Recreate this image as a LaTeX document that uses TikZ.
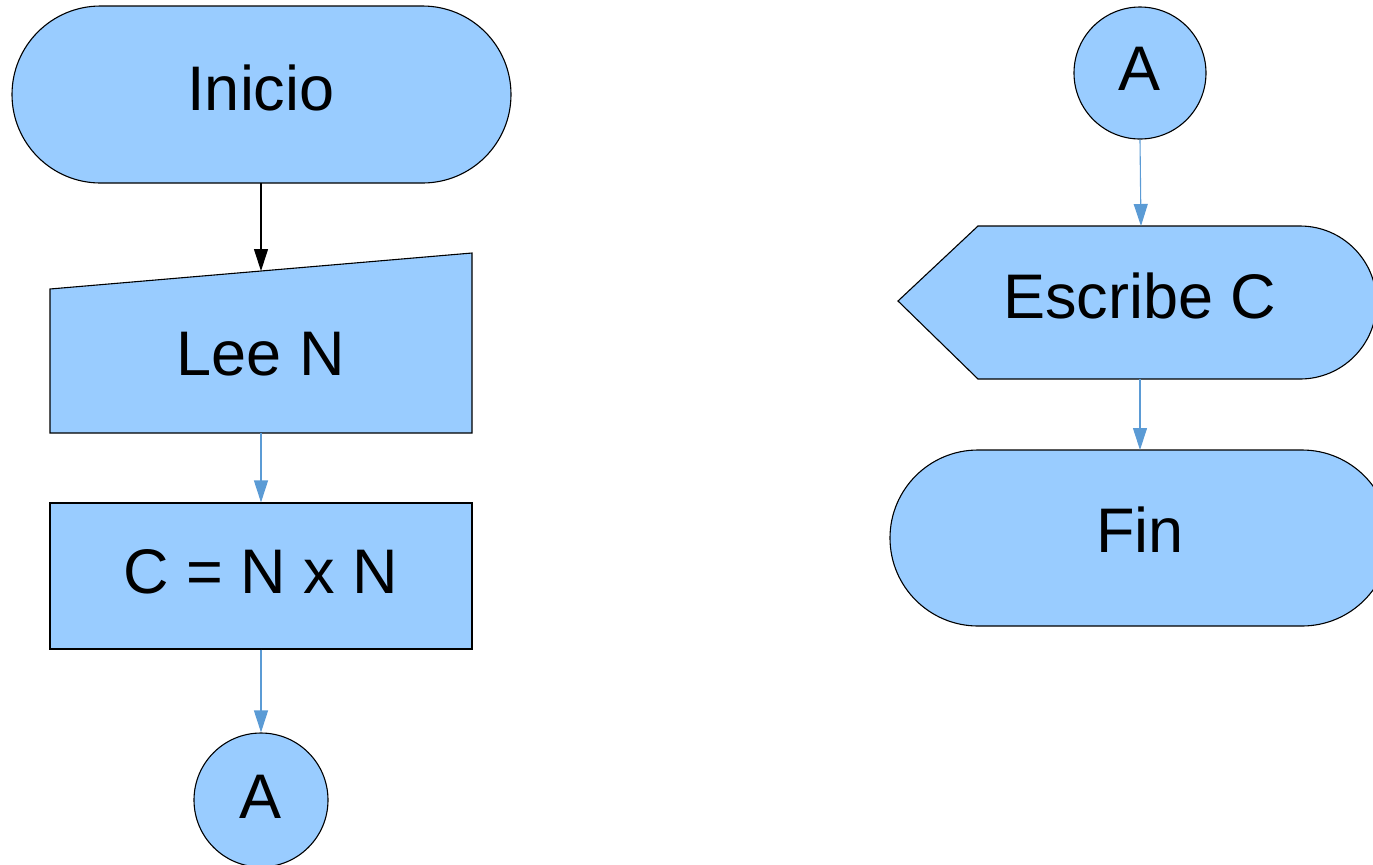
\documentclass[tikz,border=0pt]{standalone}
\usepackage{fontspec}
\setmainfont{Liberation Sans}
\usetikzlibrary{arrows.meta}
\definecolor{boxfill}{RGB}{153,204,255}
\definecolor{flowblue}{RGB}{91,155,213}
\begin{document}
\begin{tikzpicture}[x=0.5pt,y=-0.5pt,
  shapebox/.style={draw=black, fill=boxfill, line width=0.55pt},
  txt/.style={font=\fontsize{31.5}{38}\selectfont, inner sep=0pt},
  flow/.style={draw=flowblue, line width=0.55pt, -{Triangle[width=7pt,length=11pt]}},
  firstflow/.style={draw=black, line width=0.55pt, -{Triangle[width=7pt,length=11pt]}}]
\useasboundingbox (0,0) rectangle (1373,864);
\clip (0,0) rectangle (1373,864);

% left column: terminator
\path[shapebox, rounded corners=44.25pt] (12,6) rectangle (511,183);
\node[txt] (inicio) at (261,88) {Inicio};
\coordinate (inicio-s) at (261,183);

% manual input
\path[shapebox] (50,289) -- (472,253) -- (472,433) -- (50,433) -- cycle;
\node[txt] (lee) at (261,354) {Lee N};
\coordinate (lee-n) at (261,271);
\coordinate (lee-s) at (261,433);

% process
\node[shapebox, txt, minimum width=211pt, minimum height=73pt] (calc) at (261,576) {};
\node[txt] (calctext) at (261,572) {C = N x N};

% off-page connector
\node[shapebox, circle, minimum size=67pt, inner sep=0pt] (connA) at (261,800) {};
\node[txt] (connAtext) at (261,797) {A};

\draw[firstflow] (inicio-s) -- (lee-n);
\draw[flow] (lee-s) -- (calc.north);
\draw[flow] (calc.south) -- (connA.north);

% right column: connector
\node[shapebox, circle, minimum size=66pt, inner sep=0pt] (connB) at (1140,73) {};
\node[txt] (connBtext) at (1140,69) {A};

% display
\path[shapebox] (898,301) -- (978,226) -- (1300,226)
  arc[start angle=90, end angle=-90, radius=38.25pt] -- (978,379) -- cycle;
\node[txt] (escribe) at (1140,296) {Escribe C};
\coordinate (escribe-n) at (1141,226);
\coordinate (escribe-s) at (1140,379);

% terminator
\path[shapebox, rounded corners=44pt] (890,450) rectangle (1390,626);
\node[txt] (fin) at (1140,530) {Fin};
\coordinate (fin-n) at (1140,450);

\draw[flow] (connB.south) -- (escribe-n);
\draw[flow] (escribe-s) -- (fin-n);
\end{tikzpicture}
\end{document}
